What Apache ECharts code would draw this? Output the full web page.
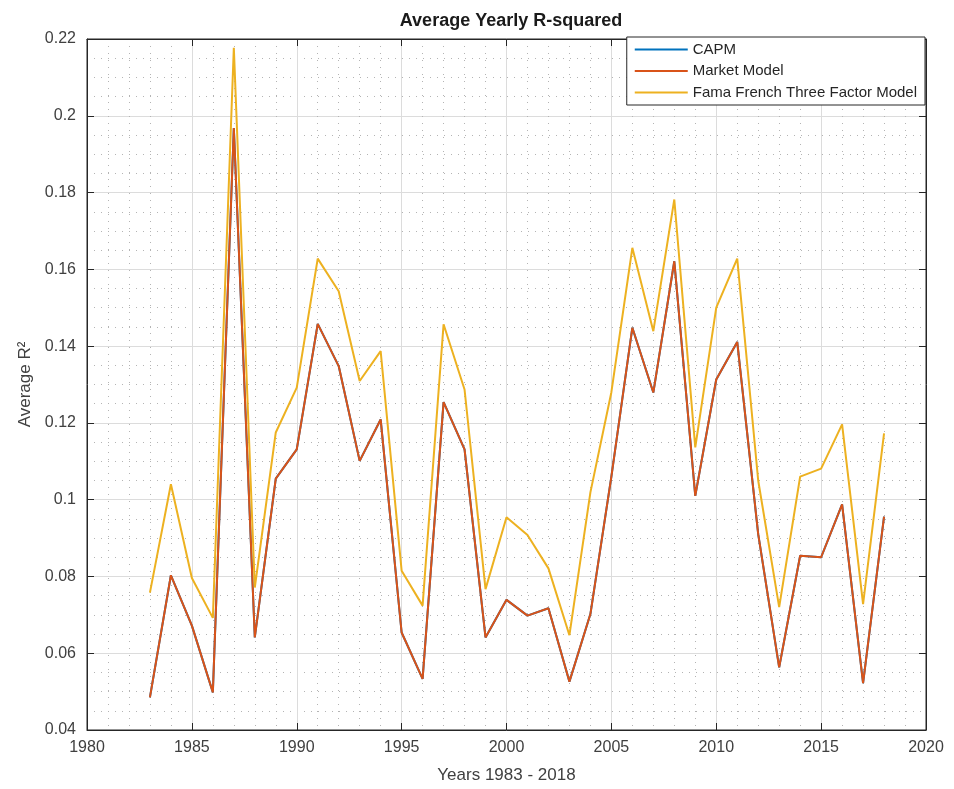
<!DOCTYPE html>
<html>
<head>
<meta charset="utf-8">
<script src="https://cdn.jsdelivr.net/npm/echarts@6/dist/echarts.min.js"></script>
<style>html,body{margin:0;padding:0;background:#fff}#c{width:954px;height:789px}</style>
</head>
<body>
<div id="c"></div>
<script>
const years = [1983,1984,1985,1986,1987,1988,1989,1990,1991,1992,1993,1994,1995,1996,1997,1998,1999,2000,2001,2002,2003,2004,2005,2006,2007,2008,2009,2010,2011,2012,2013,2014,2015,2016,2017,2018];
const capm = [0.0485,0.0803,0.0672,0.0498,0.1968,0.0641,0.1055,0.1131,0.1458,0.1348,0.1101,0.1209,0.0654,0.0533,0.1254,0.1131,0.0641,0.0739,0.0698,0.0717,0.0526,0.0702,0.1060,0.1448,0.1279,0.1621,0.1010,0.1313,0.1411,0.0910,0.0563,0.0854,0.0850,0.0988,0.0522,0.0956];
const marketModel = [0.0485,0.0803,0.0672,0.0498,0.1968,0.0641,0.1055,0.1131,0.1458,0.1348,0.1101,0.1209,0.0654,0.0533,0.1254,0.1131,0.0641,0.0739,0.0698,0.0717,0.0526,0.0702,0.1060,0.1448,0.1279,0.1621,0.1010,0.1313,0.1411,0.0910,0.0563,0.0854,0.0850,0.0988,0.0522,0.0956];
const famaFrench = [0.0758,0.1040,0.0796,0.0692,0.2177,0.0771,0.1175,0.1292,0.1628,0.1543,0.1309,0.1387,0.0815,0.0724,0.1457,0.1287,0.0767,0.0954,0.0908,0.0821,0.0647,0.1019,0.1280,0.1656,0.1439,0.1782,0.1136,0.1500,0.1628,0.1050,0.0720,0.1060,0.1081,0.1196,0.0728,0.1173];
const seriesNames = ['CAPM','Market Model','Fama French Three Factor Model'];
const xMin = 1980, xMax = 2020, xStep = 5;
const yMin = 0.04, yMax = 0.22, yStep = 0.02;

const FONT = 'Liberation Sans, Arial, Helvetica, sans-serif';
const TXT = '#404040';
const pair = (xs, ys) => xs.map((x, i) => [x, ys[i]]);
const chart = echarts.init(document.getElementById('c'), null, {renderer: 'canvas'});
const majorGrid = {show: true, lineStyle: {color: '#dcdcdc', width: 1}};
const minorGrid = {show: true, lineStyle: {color: '#b4b4b4', width: 1, type: [1, 6]}};
const LW = 2;
const lineIcon = 'path://M0,0 L53,0 L53,2 L0,2 Z';
chart.setOption({
  animation: false,
  backgroundColor: '#fff',
  title: {
    text: 'Average Yearly R-squared', left: 506, textAlign: 'center', top: 7,
    textStyle: {fontFamily: FONT, fontSize: 18, fontWeight: 'bold', color: '#1a1a1a'}
  },
  grid: {left: 87, right: 28, top: 39, bottom: 58, show: true, borderColor: '#262626', borderWidth: 1, backgroundColor: 'transparent'},
  legend: {
    data: seriesNames.map(n => ({name: n, icon: lineIcon})), orient: 'vertical', right: 29, top: 37,
    itemWidth: 53, itemHeight: 15, itemGap: 6.5, padding: [5, 8, 5, 8],
    backgroundColor: '#fff', borderColor: '#262626', borderWidth: 1, borderRadius: 0,
    textStyle: {fontFamily: FONT, fontSize: 15, color: '#262626'}
  },
  xAxis: [{
    type: 'value', min: xMin, max: xMax, interval: xStep, position: 'bottom',
    name: 'Years 1983 - 2018', nameLocation: 'middle', nameGap: 37,
    nameTextStyle: {fontFamily: FONT, fontSize: 17, color: TXT},
    axisLine: {show: true, lineStyle: {color: '#262626'}},
    axisTick: {show: true, inside: true, length: 7, lineStyle: {color: '#262626'}},
    minorTick: {show: false, splitNumber: 5},
    axisLabel: {fontFamily: FONT, fontSize: 16, color: TXT, margin: 10, formatter: v => String(Math.round(v))},
    splitLine: majorGrid, minorSplitLine: minorGrid
  }, {
    type: 'value', min: xMin, max: xMax, interval: xStep, position: 'top',
    axisLine: {show: true, lineStyle: {color: '#262626'}},
    axisTick: {show: true, inside: true, length: 7, lineStyle: {color: '#262626'}},
    axisLabel: {show: false}, splitLine: {show: false}
  }],
  yAxis: [{
    type: 'value', min: yMin, max: yMax, interval: yStep, position: 'left',
    name: 'Average R\u00B2', nameLocation: 'middle', nameGap: 50, nameRotate: 90,
    nameTextStyle: {fontFamily: FONT, fontSize: 17, color: TXT},
    axisLine: {show: true, lineStyle: {color: '#262626'}},
    axisTick: {show: true, inside: true, length: 7, lineStyle: {color: '#262626'}},
    minorTick: {show: false, splitNumber: 4},
    axisLabel: {fontFamily: FONT, fontSize: 16, color: TXT, margin: 11, formatter: v => String(+v.toFixed(2))},
    splitLine: majorGrid, minorSplitLine: minorGrid
  }, {
    type: 'value', min: yMin, max: yMax, interval: yStep, position: 'right',
    axisLine: {show: true, lineStyle: {color: '#262626'}},
    axisTick: {show: true, inside: true, length: 7, lineStyle: {color: '#262626'}},
    axisLabel: {show: false}, splitLine: {show: false}
  }],
  series: [
    {name: seriesNames[0], type: 'line', data: pair(years, capm), symbol: 'none', lineStyle: {color: '#0072BD', width: LW}, itemStyle: {color: '#0072BD'}},
    {name: seriesNames[1], type: 'line', data: pair(years, marketModel), symbol: 'none', lineStyle: {color: '#D95319', width: LW}, itemStyle: {color: '#D95319'}},
    {name: seriesNames[2], type: 'line', data: pair(years, famaFrench), symbol: 'none', lineStyle: {color: '#EDB120', width: LW}, itemStyle: {color: '#EDB120'}}
  ]
});
</script>
</body>
</html>
